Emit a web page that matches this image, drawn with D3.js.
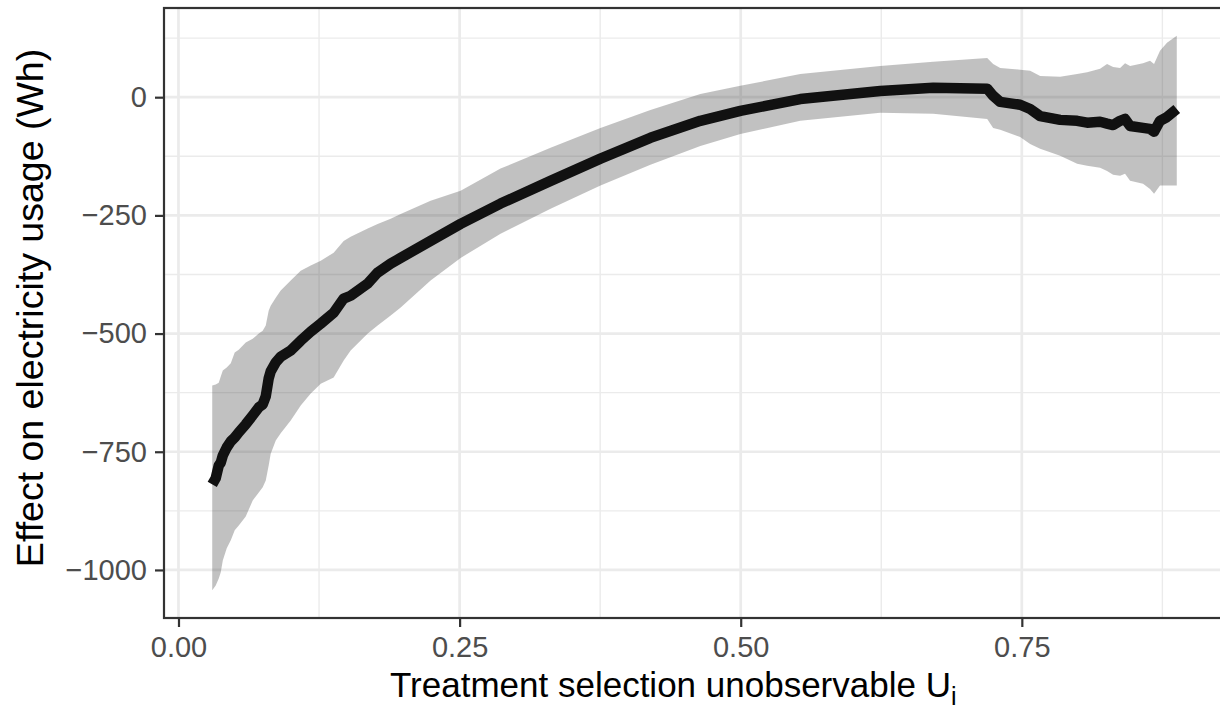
<!DOCTYPE html>
<html>
<head>
<meta charset="utf-8">
<script src="https://cdn.jsdelivr.net/npm/d3@7"></script>
<style>
  html, body { margin: 0; padding: 0; background: #fff; }
  svg { display: block; }
  text { font-family: "Liberation Sans", Arial, Helvetica, sans-serif; }
</style>
</head>
<body>
<svg id="chart" width="1220" height="711"></svg>
<script>
// Treatment selection unobservable U_i
const u = [0.0300,0.0331,0.0358,0.0376,0.0394,0.0429,0.0465,0.0500,0.0536,0.0598,
  0.0660,0.0714,0.0749,0.0776,0.0802,0.0820,0.0865,0.0909,0.0998,0.1087,
  0.1176,0.1265,0.1380,0.1469,0.1531,0.1683,0.1771,0.1887,0.1976,0.2242,
  0.2509,0.2864,0.3309,0.3753,0.4197,0.4641,0.4997,0.5530,0.6241,0.6712,
  0.7192,0.7245,0.7308,0.7485,0.7574,0.7663,0.7841,0.7992,0.8081,0.8196,
  0.8258,0.8312,0.8374,0.8418,0.8463,0.8578,0.8640,0.8676,0.8729,0.8791,0.8878];
// Estimated effect (Wh)
const effect = [-819,-806,-779,-773,-758,-741,-728,-720,-709,-692,
  -673,-656,-650,-633,-595,-580,-561,-549,-536,-515,
  -496,-479,-456,-426,-420,-394,-371,-352,-340,-304,
  -268,-225,-177,-130,-86,-50,-29,-4,13,20,
  18,3,-10,-16,-25,-40,-48,-50,-54,-52,
  -56,-59,-50,-46,-61,-65,-67,-73,-50,-42,-25];
// Upper confidence bound
const upper = [-610,-608,-604,-591,-578,-572,-563,-540,-534,-519,
  -511,-500,-494,-483,-452,-441,-424,-409,-388,-367,
  -356,-346,-329,-304,-295,-278,-268,-257,-247,-219,
  -198,-151,-107,-65,-27,7,24,49,66,75,
  83,70,62,58,56,45,43,49,53,60,
  70,64,62,72,66,72,77,70,98,115,130];
// Lower confidence bound
const lower = [-1043,-1033,-1018,-1005,-980,-954,-937,-916,-906,-887,
  -853,-836,-825,-811,-779,-754,-726,-711,-684,-652,
  -627,-606,-593,-557,-536,-500,-483,-462,-445,-388,
  -340,-289,-236,-187,-143,-103,-78,-50,-33,-35,
  -46,-65,-69,-84,-99,-109,-124,-141,-145,-149,
  -156,-164,-166,-162,-177,-183,-194,-204,-187,-187,-187];

const xTicks = [0, 0.25, 0.5, 0.75, 1.0];
const xTickLabels = ["0.00", "0.25", "0.50", "0.75", "1.00"];
const xMinor = [0.125, 0.375, 0.625, 0.875];
const yTicks = [0, -250, -500, -750, -1000];
const yTickLabels = ["0", "\u2212250", "\u2212500", "\u2212750", "\u22121000"];
const yMinor = [125, -125, -375, -625, -875];

const data = u.map((d, i) => ({ u: d, e: effect[i], lo: lower[i], hi: upper[i] }));

const svg = d3.select("#chart");
const P = { left: 164, right: 1225, top: 8, bottom: 618 };

function expand(ext) { const p = (ext[1] - ext[0]) * 0.05; return [ext[0] - p, ext[1] + p]; }
const x = d3.scaleLinear().domain(expand(d3.extent(u))).range([P.left, P.right]);
const yExt = [d3.min(lower.concat(effect)), d3.max(upper.concat(effect))];
const y = d3.scaleLinear().domain(expand(yExt)).range([P.bottom, P.top]);

const clipId = "panelclip";
svg.append("clipPath").attr("id", clipId).append("rect")
  .attr("x", P.left).attr("y", P.top).attr("width", P.right - P.left).attr("height", P.bottom - P.top);

const grid = svg.append("g").attr("clip-path", `url(#${clipId})`);
// minor grid
grid.selectAll(".xminor").data(xMinor).join("line")
  .attr("x1", d => x(d)).attr("x2", d => x(d)).attr("y1", P.top).attr("y2", P.bottom)
  .attr("stroke", "#EBEBEB").attr("stroke-width", 1.4);
grid.selectAll(".yminor").data(yMinor).join("line")
  .attr("y1", d => y(d)).attr("y2", d => y(d)).attr("x1", P.left).attr("x2", P.right)
  .attr("stroke", "#EBEBEB").attr("stroke-width", 1.4);
// major grid
grid.selectAll(".xmajor").data(xTicks).join("line")
  .attr("x1", d => x(d)).attr("x2", d => x(d)).attr("y1", P.top).attr("y2", P.bottom)
  .attr("stroke", "#EBEBEB").attr("stroke-width", 2.7);
grid.selectAll(".ymajor").data(yTicks).join("line")
  .attr("y1", d => y(d)).attr("y2", d => y(d)).attr("x1", P.left).attr("x2", P.right)
  .attr("stroke", "#EBEBEB").attr("stroke-width", 2.7);

const plot = svg.append("g").attr("clip-path", `url(#${clipId})`);
plot.append("path").datum(data)
  .attr("d", d3.area().x(d => x(d.u)).y0(d => y(d.lo)).y1(d => y(d.hi)))
  .attr("fill", "#333333").attr("fill-opacity", 0.3);
plot.append("path").datum(data)
  .attr("d", d3.line().x(d => x(d.u)).y(d => y(d.e)))
  .attr("fill", "none").attr("stroke", "#111111").attr("stroke-width", 10.5)
  .attr("stroke-linejoin", "round").attr("stroke-linecap", "butt");

// panel border
svg.append("rect").attr("x", P.left).attr("y", P.top)
  .attr("width", P.right - P.left).attr("height", P.bottom - P.top)
  .attr("fill", "none").attr("stroke", "#333333").attr("stroke-width", 2.2);

// axes
const xAxis = d3.axisBottom(x).tickValues(xTicks.filter(t => x(t) <= P.right))
  .tickFormat((d) => xTickLabels[xTicks.indexOf(d)]).tickSize(9).tickPadding(9);
const gx = svg.append("g").attr("transform", `translate(0,${P.bottom})`).call(xAxis);
gx.select(".domain").remove();
gx.selectAll(".tick line").attr("stroke", "#333333").attr("stroke-width", 2.2);
gx.selectAll(".tick text").attr("fill", "#4D4D4D").attr("font-size", 29)
  .attr("font-family", "Liberation Sans, Arial, sans-serif");

const yAxis = d3.axisLeft(y).tickValues(yTicks)
  .tickFormat((d) => yTickLabels[yTicks.indexOf(d)]).tickSize(9).tickPadding(8);
const gy = svg.append("g").attr("transform", `translate(${P.left},0)`).call(yAxis);
gy.select(".domain").remove();
gy.selectAll(".tick line").attr("stroke", "#333333").attr("stroke-width", 2.2);
gy.selectAll(".tick text").attr("fill", "#4D4D4D").attr("font-size", 29)
  .attr("font-family", "Liberation Sans, Arial, sans-serif");

// titles
const xt = svg.append("text").attr("x", 390).attr("y", 697)
  .attr("font-size", 35).attr("fill", "#000");
xt.append("tspan").text("Treatment selection unobservable U");
xt.append("tspan").attr("font-size", 25).attr("dy", 8).text("i");

svg.append("text")
  .attr("transform", `translate(43,308) rotate(-90)`)
  .attr("text-anchor", "middle").attr("font-size", 37.5).attr("fill", "#000")
  .text("Effect on electricity usage (Wh)");
</script>
</body>
</html>
